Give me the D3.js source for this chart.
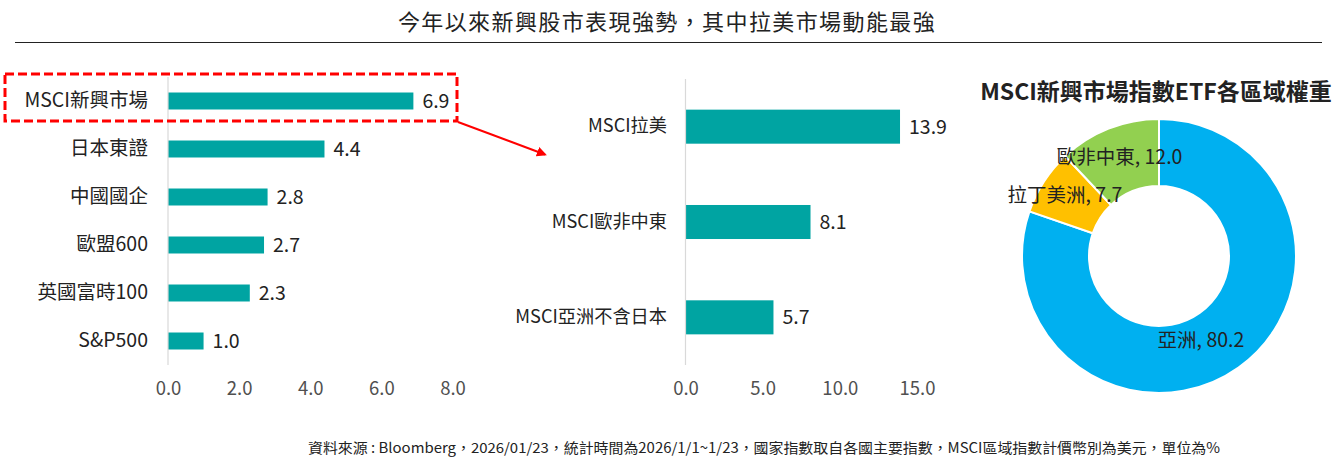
<!DOCTYPE html>
<html><head><meta charset="utf-8">
<script src="https://cdn.jsdelivr.net/npm/d3@7"></script>
<style>
html,body{margin:0;padding:0;background:#fff;}
svg{display:block;font-family:"Noto Sans CJK TC","Noto Sans",sans-serif;}
</style></head>
<body>
<svg id="c" width="1337" height="459"></svg>
<script>
const titleText = "今年以來新興股市表現強勢，其中拉美市場動能最強";
const footText = "資料來源 : Bloomberg，2026/01/23，統計時間為2026/1/1~1/23，國家指數取自各國主要指數，MSCI區域指數計價幣別為美元，單位為%";

const leftCats = ["MSCI新興市場","日本東證","中國國企","歐盟600","英國富時100","S&P500"];
const leftVals = [6.9, 4.4, 2.8, 2.7, 2.3, 1.0];
const leftTicks = [0, 2, 4, 6, 8];

const midCats = ["MSCI拉美","MSCI歐非中東","MSCI亞洲不含日本"];
const midVals = [13.9, 8.1, 5.7];
const midTicks = [0, 5, 10, 15];

const pieTitle = "MSCI新興市場指數ETF各區域權重";
const pieCats = ["亞洲","拉丁美洲","歐非中東"];
const pieVals = [80.2, 7.7, 12.0];
const pieColors = ["#00B0F0","#FFC000","#92D050"];
// label placement (style): radius and angular shift in degrees
const pieLabelR = [94, 112, 107];
const pieLabelShift = [9, 0, 0];

const svg = d3.select("#c");
const barColor = "#00A4A2";
const fmt = d3.format(".1f");
const FF = '"Noto Sans CJK TC","Noto Sans",sans-serif';

// title
svg.append("text").attr("x", 667).attr("y", 30).attr("text-anchor","middle")
  .attr("font-size", 22).attr("letter-spacing", 1.4).attr("fill","#222").text(titleText);
svg.append("line").attr("x1",15).attr("x2",1322).attr("y1",42.5).attr("y2",42.5)
  .attr("stroke","#222").attr("stroke-width",1.2);

function barChart(cats, vals, ticks, x0, x1, dmax, y0, y1, pi, po, catSize, catPad) {
  const x = d3.scaleLinear().domain([0, dmax]).range([x0, x1]);
  const y = d3.scaleBand().domain(cats).range([y0, y1]).paddingInner(pi).paddingOuter(po);
  const g = svg.append("g");
  g.selectAll("rect.bar").data(vals).join("rect").attr("class","bar")
    .attr("x", x(0)).attr("y", (d,i)=>y(cats[i]))
    .attr("width", d=>x(d)-x(0)).attr("height", y.bandwidth()).attr("fill", barColor);
  g.append("line").attr("x1", x(0)).attr("x2", x(0)).attr("y1", y0).attr("y2", y1)
    .attr("stroke","#d9d9d9").attr("stroke-width",1.2);
  g.selectAll("text.val").data(vals).join("text").attr("class","val")
    .attr("x", d=>x(d)+9).attr("y", (d,i)=>y(cats[i])+y.bandwidth()/2).attr("dy","0.36em")
    .attr("font-size",19.5).attr("fill","#222").text(d=>fmt(d));
  const ya = g.append("g").attr("transform",`translate(${x(0)},0)`)
    .call(d3.axisLeft(y).tickSize(0).tickPadding(catPad));
  ya.select(".domain").remove();
  ya.selectAll("text").attr("font-size",catSize).attr("fill","#222").attr("font-family",FF);
  const xa = g.append("g").attr("transform",`translate(0,${y1})`)
    .call(d3.axisBottom(x).tickValues(ticks).tickFormat(fmt).tickSize(0).tickPadding(17));
  xa.select(".domain").remove();
  xa.selectAll("text").attr("font-size",18.5).attr("fill","#505050").attr("font-family",FF);
  return {x, y};
}

barChart(leftCats, leftVals, leftTicks, 168, 452.5, 8, 77, 365, 0.646, 0.323, 19.5, 20);
barChart(midCats, midVals, midTicks, 685.5, 917, 15, 79, 365, 0.643, 0.3215, 18.2, 18.5);

// highlight box and arrow
const defs = svg.append("defs");
defs.append("marker").attr("id","ah").attr("viewBox","0 0 10 10").attr("refX",8).attr("refY",5)
  .attr("markerWidth",5).attr("markerHeight",5).attr("orient","auto")
  .append("path").attr("d","M0,0 L10,5 L0,10 z").attr("fill","#FF0000");
svg.append("rect").attr("x",5).attr("y",74).attr("width",452).attr("height",47)
  .attr("fill","none").attr("stroke","#FF0000").attr("stroke-width",3).attr("stroke-dasharray","9,4");
svg.append("line").attr("x1",458).attr("y1",122).attr("x2",545).attr("y2",154.5)
  .attr("stroke","#FF0000").attr("stroke-width",2).attr("marker-end","url(#ah)");

// donut
svg.append("text").attr("x",1156).attr("y",100).attr("text-anchor","middle")
  .attr("font-size",23).attr("font-weight","bold").attr("fill","#222").text(pieTitle);
const cx = 1159, cy = 256;
const pie = d3.pie().sort(null).value(d=>d)(pieVals);
const arc = d3.arc().innerRadius(70).outerRadius(137);
const pg = svg.append("g").attr("transform",`translate(${cx},${cy})`);
pg.selectAll("path").data(pie).join("path").attr("d",arc)
  .attr("fill",(d,i)=>pieColors[i]).attr("stroke","#fff").attr("stroke-width",2);
pg.selectAll("text").data(pie).join("text")
  .attr("transform",(d,i)=>{const a=(d.startAngle+d.endAngle)/2 + pieLabelShift[i]*Math.PI/180;const r=pieLabelR[i];
     return `translate(${r*Math.sin(a)},${-r*Math.cos(a)})`;})
  .attr("text-anchor","middle").attr("dy","0.36em").attr("font-size",19.5).attr("fill","#222")
  .text((d,i)=>`${pieCats[i]}, ${fmt(d.data)}`);

// footer
svg.append("text").attr("x",308).attr("y",453).attr("font-size",14).attr("fill","#222")
  .attr("textLength",912).attr("lengthAdjust","spacingAndGlyphs").text(footText);
</script>
</body></html>
